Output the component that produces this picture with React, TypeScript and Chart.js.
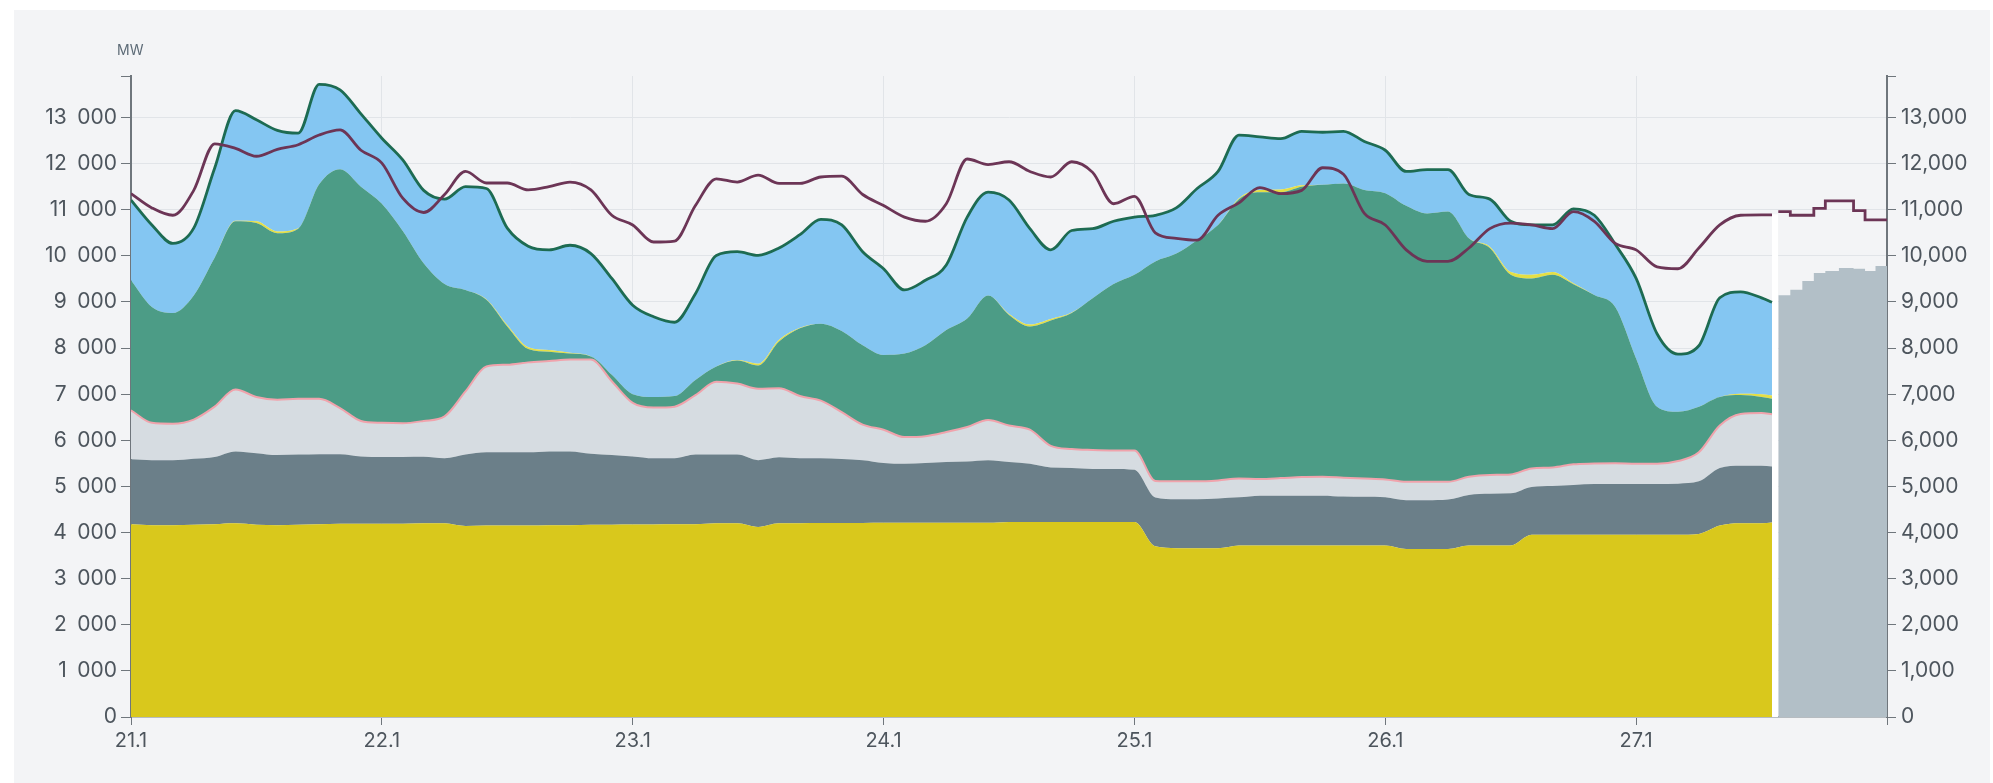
import React, { useEffect, useRef } from 'react';
import { Chart, registerables } from 'chart.js';

Chart.register(...registerables);

// hours since 21.1 00:00
const hours = [
  0, 2, 4, 6, 8, 10, 12, 14, 16, 18, 20, 22, 24, 26,
  28, 30, 32, 34, 36, 38, 40, 42, 44, 46, 48, 50, 52, 54,
  56, 58, 60, 62, 64, 66, 68, 70, 72, 74, 76, 78, 80, 82,
  84, 86, 88, 90, 92, 94, 96, 98, 100, 102, 104, 106, 108, 110,
  112, 114, 116, 118, 120, 122, 124, 126, 128, 130, 132, 134, 136, 138,
  140, 142, 144, 146, 148, 150, 152, 154, 156, 157,
];

const dayLabels = ['21.1', '22.1', '23.1', '24.1', '25.1', '26.1', '27.1'];
const yTickValues = [0, 1000, 2000, 3000, 4000, 5000, 6000, 7000, 8000, 9000, 10000, 11000, 12000, 13000];

const nuclear = [
  4180, 4160, 4160, 4170, 4180, 4200, 4170, 4160, 4170, 4180, 4190, 4190, 4190, 4190,
  4200, 4200, 4140, 4150, 4150, 4150, 4160, 4160, 4170, 4170, 4175, 4175, 4180, 4180,
  4200, 4200, 4120, 4200, 4200, 4205, 4205, 4205, 4210, 4210, 4210, 4210, 4210, 4210,
  4230, 4230, 4230, 4230, 4230, 4230, 4230, 3700, 3660, 3660, 3660, 3720, 3720, 3720,
  3720, 3720, 3720, 3720, 3720, 3645, 3645, 3645, 3720, 3720, 3720, 3950, 3950, 3950,
  3950, 3950, 3950, 3950, 3950, 3970, 4150, 4200, 4200, 4220,
];

const hydro = [
  1410, 1410, 1410, 1430, 1460, 1560, 1550, 1520, 1520, 1520, 1510, 1460, 1450, 1450,
  1445, 1410, 1550, 1590, 1590, 1590, 1600, 1600, 1540, 1510, 1475, 1435, 1430, 1510,
  1490, 1490, 1450, 1430, 1410, 1405, 1390, 1365, 1300, 1280, 1300, 1320, 1330, 1360,
  1300, 1260, 1180, 1170, 1150, 1150, 1130, 1060, 1060, 1060, 1080, 1045, 1080, 1080,
  1080, 1080, 1060, 1055, 1045, 1055, 1055, 1070, 1095, 1120, 1130, 1040, 1060, 1080,
  1100, 1100, 1100, 1100, 1110, 1140, 1250, 1250, 1250, 1210,
];

const other = [
  1060, 810, 790, 850, 1090, 1340, 1220, 1200, 1210, 1200, 1000, 770, 740, 730,
  775, 910, 1370, 1860, 1900, 1950, 1960, 1990, 2040, 1600, 1160, 1100, 1120, 1290,
  1580, 1540, 1550, 1500, 1350, 1250, 1015, 770, 720, 580, 580, 650, 750, 870,
  790, 740, 470, 410, 410, 400, 420, 360, 390, 390, 390, 405, 360, 380,
  405, 410, 410, 395, 385, 400, 400, 385, 395, 410, 410, 400, 400, 450,
  445, 450, 440, 440, 490, 630, 920, 1120, 1140, 1135,
];

const wind = [
  2820, 2510, 2400, 2690, 3230, 3650, 3770, 3610, 3690, 4650, 5180, 5080, 4750, 4170,
  3420, 2870, 2200, 1450, 830, 290, 200, 130, 70, 140, 190, 230, 230, 330,
  330, 500, 500, 1010, 1470, 1670, 1760, 1720, 1620, 1810, 1970, 2210, 2350, 2700,
  2400, 2240, 2720, 2950, 3290, 3610, 3810, 4760, 4940, 5230, 5540, 6060, 6220, 6200,
  6295, 6330, 6380, 6260, 6210, 5985, 5820, 5860, 5170, 4920, 4330, 4120, 4180, 3905,
  3655, 3390, 2280, 1240, 1070, 990, 620, 410, 350, 335,
];

const solar = [
  0, 0, 0, 0, 0, 10, 40, 40, 10, 0, 0, 0, 0, 0,
  0, 0, 0, 10, 30, 40, 40, 20, 0, 0, 0, 0, 0, 0,
  0, 10, 40, 40, 10, 0, 0, 0, 0, 0, 0, 0, 0, 0,
  20, 40, 30, 10, 0, 0, 0, 0, 0, 0, 0, 20, 50, 60,
  30, 0, 0, 0, 0, 0, 0, 0, 0, 30, 60, 80, 60, 20,
  0, 0, 0, 0, 0, 0, 0, 30, 60, 70,
];

const imports = [
  1740, 1780, 1510, 1460, 1940, 2390, 2200, 2190, 2060, 2170, 1720, 1580, 1420, 1540,
  1580, 1840, 2240, 2400, 2100, 2190, 2170, 2330, 2230, 2090, 1930, 1740, 1600, 1870,
  2410, 2350, 2350, 1990, 2020, 2260, 2300, 2030, 1870, 1380, 1410, 1410, 2200, 2240,
  2470, 2080, 1500, 1780, 1510, 1360, 1250, 1000, 990, 1120, 1160, 1370, 1150, 1100,
  1170, 1140, 1130, 1050, 930, 745, 950, 910, 950, 1030, 1100, 1080, 1020, 1615,
  1730, 1360, 1740, 1580, 1250, 1320, 2150, 2210, 2090, 2025,
];

const consumption = [
  11350, 11040, 10880, 11420, 12430, 12330, 12160, 12310, 12410, 12620, 12730, 12290, 12010, 11250,
  10940, 11330, 11830, 11580, 11580, 11430, 11500, 11600, 11430, 10880, 10670, 10300, 10320, 11090,
  11670, 11600, 11750, 11570, 11570, 11710, 11730, 11330, 11090, 10840, 10750, 11130, 12100, 11980,
  12040, 11830, 11710, 12040, 11810, 11130, 11290, 10500, 10380, 10340, 10880, 11150, 11480, 11350,
  11420, 11910, 11770, 10920, 10670, 10130, 9880, 9880, 10170, 10590, 10710, 10670, 10590, 10960,
  10750, 10270, 10130, 9760, 9720, 10170, 10670, 10880, 10890, 10890,
];

// forecast part (hourly steps)
const forecastHours = [157.6, 158.75, 159.9, 161.0, 162.1, 163.4, 164.8, 165.9, 166.9, 168];
const forecastProduction = [9144, 9267, 9454, 9628, 9670, 9736, 9720, 9670, 9780, 9780];
const forecastConsumption = [10960, 10880, 10880, 11030, 11190, 11190, 10980, 10780, 10780, 10780];

const gapHours = [157.0, 157.6];
const gapLevel = [10900, 10900];

const Y_MAX = 13900;

const toPoints = (xs: number[], ys: number[]) => xs.map((x, i) => ({ x, y: ys[i] }));

const fmtSpace = (v: number) => String(v).replace(/\B(?=(\d{3})+(?!\d))/g, '\u2002');
const fmtComma = (v: number) => String(v).replace(/\B(?=(\d{3})+(?!\d))/g, ',');

const FONT = "Inter, 'Noto Sans', sans-serif";
const TEXT = '#4d555d';
const GRID = '#e1e4e8';
const AXIS = '#6f767c';

export default function App() {
  const ref = useRef<HTMLCanvasElement | null>(null);

  useEffect(() => {
    if (!ref.current) return;
    const area = (label: string, data: number[], bg: string, fill: any, extra: any = {}) => ({
      label,
      data: toPoints(hours, data),
      backgroundColor: bg,
      borderColor: bg,
      borderWidth: 0,
      fill,
      pointRadius: 0,
      yAxisID: 'y',
      stack: 'prod',
      order: 2,
      cubicInterpolationMode: 'monotone',
      ...extra,
    });

    const isMajor = (v: number) => yTickValues.indexOf(v) >= 0;
    const gridColor = (ctx: any) => (ctx && ctx.tick && isMajor(ctx.tick.value) ? GRID : 'rgba(0,0,0,0)');
    const setYTicks = (s: any) => {
      s.ticks = yTickValues.map((v) => ({ value: v })).concat([{ value: Y_MAX }]);
    };

    const chart = new Chart(ref.current, {
      type: 'line',
      data: {
        datasets: [
          area('Ydinvoima', nuclear, '#d9c81c', 'origin'),
          area('Vesivoima', hydro, '#6b7f89', '-1'),
          area('Muu tuotanto', other, '#d6dce1', '-1', { borderColor: '#f0a3ac', borderWidth: 2 }),
          area('Tuulivoima', wind, '#4c9c86', '-1'),
          area('Aurinkovoima', solar, '#e4df45', '-1'),
          area('Tuonti', imports, '#84c6f2', '-1', { borderColor: '#1d6b52', borderWidth: 2.8 }),
          {
            label: 'Kulutus',
            data: toPoints(hours, consumption),
            borderColor: '#6c3556',
            borderWidth: 2.8,
            fill: false,
            pointRadius: 0,
            yAxisID: 'y2',
            order: 0,
            cubicInterpolationMode: 'monotone',
          } as any,
          {
            label: 'Kulutusennuste',
            data: toPoints(forecastHours, forecastConsumption),
            borderColor: '#6c3556',
            borderWidth: 2.8,
            stepped: 'before',
            fill: false,
            pointRadius: 0,
            yAxisID: 'y2',
            order: 0,
          } as any,
          {
            label: 'Tuotantoennuste',
            data: toPoints(forecastHours, forecastProduction),
            backgroundColor: '#b2bfc7',
            borderColor: '#b2bfc7',
            borderWidth: 0,
            stepped: 'before',
            fill: 'origin',
            pointRadius: 0,
            yAxisID: 'y2',
            order: 1,
          } as any,
          {
            label: 'gap',
            data: toPoints(gapHours, gapLevel),
            backgroundColor: '#ffffff',
            borderColor: '#ffffff',
            borderWidth: 0,
            fill: 'origin',
            pointRadius: 0,
            yAxisID: 'y2',
            order: 3,
          } as any,
        ],
      },
      options: {
        animation: false,
        responsive: false,
        layout: { padding: { top: 66, left: 0, right: 0, bottom: 0 } },
        plugins: { legend: { display: false }, tooltip: { enabled: false } },
        elements: { point: { radius: 0 } },
        scales: {
          x: {
            type: 'linear',
            min: 0,
            max: 168,
            ticks: {
              stepSize: 24,
              autoSkip: false,
              maxRotation: 0,
              padding: 4,
              color: TEXT,
              font: { family: FONT, size: 20 },
              callback: (v: any) => dayLabels[Math.round(Number(v) / 24)] ?? '',
            },
            grid: { color: GRID, tickColor: AXIS, tickLength: 8, lineWidth: 1 },
            border: { color: '#8b9399', width: 1.5 },
            afterFit: (s: any) => {
              s.height = 66;
            },
          },
          y: {
            stacked: true,
            position: 'left',
            min: 0,
            max: Y_MAX,
            ticks: {
              autoSkip: false,
              includeBounds: false,
              padding: 4,
              color: TEXT,
              font: { family: FONT, size: 21 },
              callback: (v: any) => (isMajor(Number(v)) ? fmtSpace(Number(v)) : ''),
            },
            afterBuildTicks: setYTicks,
            grid: { color: gridColor, tickColor: AXIS, tickLength: 10 },
            border: { color: AXIS, width: 2 },
            afterFit: (s: any) => {
              s.width = 117;
            },
          },
          y2: {
            position: 'right',
            min: 0,
            max: Y_MAX,
            ticks: {
              autoSkip: false,
              includeBounds: false,
              padding: 5,
              color: TEXT,
              font: { family: FONT, size: 21 },
              callback: (v: any) => (isMajor(Number(v)) ? fmtComma(Number(v)) : ''),
            },
            afterBuildTicks: setYTicks,
            grid: { drawOnChartArea: false, tickColor: AXIS, tickLength: 9 },
            border: { color: AXIS, width: 2 },
            afterFit: (s: any) => {
              s.width = 103;
            },
          },
        },
      } as any,
    });
    return () => chart.destroy();
  }, []);

  return (
    <div style={{ position: 'fixed', left: 0, top: 0, width: 1993, height: 783, background: '#ffffff' }}>
      <div
        style={{
          position: 'absolute',
          left: 14,
          top: 10,
          width: 1976,
          height: 773,
          background: '#f3f4f6',
        }}
      >
        <div
          style={{
            position: 'absolute',
            left: 103,
            top: 31,
            fontFamily: FONT,
            fontSize: 14,
            color: '#5d6b77',
          }}
        >
          MW
        </div>
        <canvas ref={ref} width={1976} height={773} style={{ width: 1976, height: 773, display: 'block' }} />
      </div>
    </div>
  );
}
